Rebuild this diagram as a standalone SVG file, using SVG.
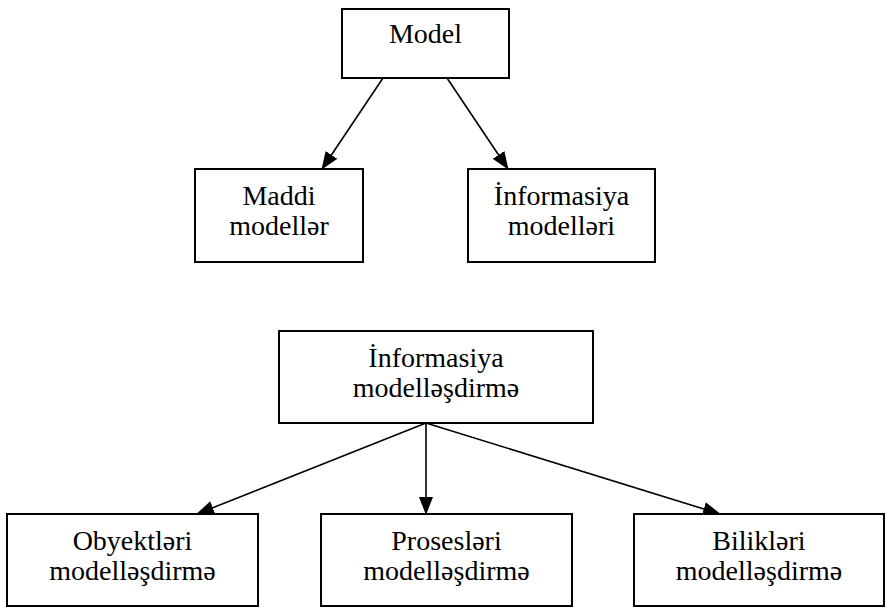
<svg xmlns="http://www.w3.org/2000/svg" width="885" height="607" viewBox="0 0 885 607">
<style>
.box{fill:#fff;stroke:#000;stroke-width:2}
.t{font-family:'Liberation Serif','Times New Roman',serif;font-size:28px;fill:#000;text-anchor:middle}
.c{stroke:#000;stroke-width:1.6;fill:none;marker-end:url(#ah)}
</style>
<defs>
<marker id="ah" markerWidth="18" markerHeight="14" refX="17" refY="7" orient="auto" markerUnits="userSpaceOnUse">
<path d="M0,0 L18,7 L0,14 Z" fill="#000"/>
</marker>
</defs>
<rect width="885" height="607" fill="#fff"/>
<g id="connectors">
<line class="c" x1="383" y1="78" x2="322" y2="169"/>
<line class="c" x1="447" y1="78" x2="508" y2="169"/>
<line class="c" x1="426" y1="423" x2="197" y2="514"/>
<line class="c" x1="426" y1="423" x2="426" y2="514"/>
<line class="c" x1="426" y1="423" x2="720" y2="514"/>
</g>
<g id="model">
<rect class="box" x="342" y="9" width="167" height="69"/>
<text class="t" x="425.5" y="43">Model</text>
</g>
<g id="maddi">
<rect class="box" x="195" y="169" width="168" height="93"/>
<text class="t" x="279" y="205">Maddi</text>
<text class="t" x="279" y="235">modellər</text>
</g>
<g id="informasiya">
<rect class="box" x="468" y="169" width="187" height="93"/>
<text class="t" x="561.5" y="205">İnformasiya</text>
<text class="t" x="561.5" y="235">modelləri</text>
</g>
<g id="infmod">
<rect class="box" x="279" y="331" width="314" height="92"/>
<text class="t" x="436" y="367">İnformasiya</text>
<text class="t" x="436" y="397">modelləşdirmə</text>
</g>
<g id="obyekt">
<rect class="box" x="7" y="514" width="251" height="92"/>
<text class="t" x="132.5" y="550">Obyektləri</text>
<text class="t" x="132.5" y="580">modelləşdirmə</text>
</g>
<g id="proses">
<rect class="box" x="321" y="514" width="251" height="92"/>
<text class="t" x="446.5" y="550">Prosesləri</text>
<text class="t" x="446.5" y="580">modelləşdirmə</text>
</g>
<g id="bilik">
<rect class="box" x="634" y="514" width="250" height="92"/>
<text class="t" x="759" y="550">Bilikləri</text>
<text class="t" x="759" y="580">modelləşdirmə</text>
</g>
</svg>
